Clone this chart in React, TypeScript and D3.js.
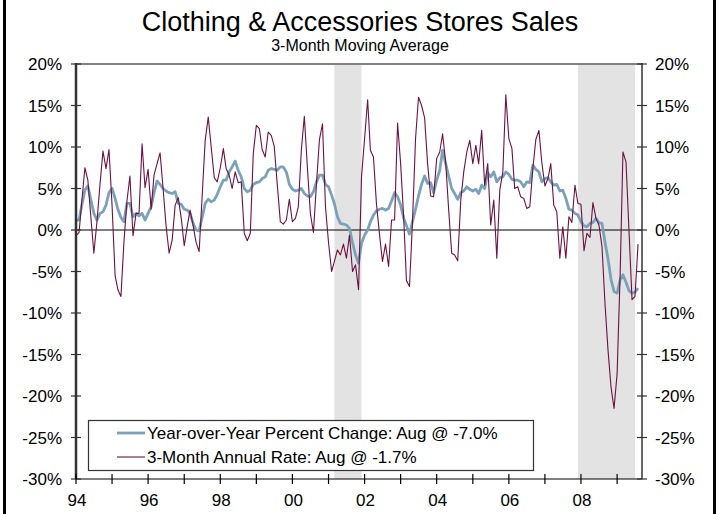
import React from "react";
import * as d3 from "d3";

// Monthly data, Jan 1994 .. Aug 2009
const yoyChange: number[] = [
  1.2, 1.2, 3.0, 4.8, 5.3, 3.6, 2.0, 1.2, 2.0, 2.2, 3.0, 4.5,
  5.0, 3.8, 2.5, 1.5, 1.0, 3.2, 3.2, 1.6, 2.0, 1.7, 2.0, 1.2,
  2.0, 2.8, 4.5, 5.9, 5.5, 5.0, 4.7, 4.5, 4.4, 4.6, 3.2, 3.1,
  2.5, 2.4, 2.0, 0.8, 0.0, -0.1, 1.5, 3.2, 3.7, 3.4, 3.6, 4.3,
  5.2, 6.0, 6.0, 7.0, 7.6, 8.3, 7.2, 6.4, 5.0, 4.6, 4.8, 5.5,
  5.7, 5.8, 6.2, 6.4, 7.2, 7.4, 7.3, 7.2, 7.6, 7.6, 7.0, 5.5,
  4.9, 4.7, 4.8, 5.0, 4.4, 4.1, 4.0, 4.6, 5.8, 6.6, 6.6, 5.5,
  5.2, 4.2, 3.2, 1.6, 0.8, 0.7, 0.6, 0.2, -1.5, -3.0, -4.0, -1.6,
  -0.6, 0.0, 1.0, 1.8, 2.3, 2.5, 2.6, 2.4, 2.6, 3.5, 4.5, 4.0,
  3.0, 1.4, 0.5, -0.5, 1.0, 2.5, 4.1, 5.5, 6.5, 5.6, 5.7, 4.5,
  6.0, 7.2, 9.6, 8.0, 6.5, 5.0, 4.4, 3.7, 4.5, 4.7, 5.2, 4.9,
  4.7, 4.9, 4.4, 5.4, 5.0, 6.9, 6.4, 7.0, 5.8, 6.3, 6.4, 7.0,
  6.7, 6.1, 6.0, 6.0, 5.8, 5.2, 5.8, 5.7, 7.8, 7.3, 7.0, 5.8,
  6.2, 6.3, 5.8, 5.4, 5.5, 4.7, 4.8, 3.8, 2.5, 2.4, 2.0, 1.8,
  1.0, 0.5, 0.4, 0.8, 0.9, 1.4, 0.9, 0.8, -1.5, -3.5, -6.0, -7.4,
  -7.6, -6.0, -5.4, -6.3, -7.3, -7.6, -7.5, -7.0,
];

const annualRate: number[] = [
  -0.7, -0.3, 3.5, 7.5, 6.0, 1.5, -2.8, 1.0, 5.5, 9.5, 7.4, 9.7,
  3.0, -5.5, -7.2, -8.0, -1.5, 3.5, 6.5, -0.7, 2.0, 2.0, 10.4, 5.1,
  7.3, 2.5, 6.6, 8.0, 9.3, 5.0, 0.5, -2.8, -1.2, 3.0, 3.9, 1.5,
  -1.9, 0.5, 2.4, 0.5, -1.5, -2.6, 4.0, 10.8, 13.6, 10.0, 6.3, 5.8,
  7.5, 9.8, 7.4, 6.6, 5.0, 7.0, 5.7, 5.8, -0.4, -1.3, -0.4, 9.2,
  12.6, 12.2, 9.7, 8.8, 11.8, 11.4, 10.1, 5.5, 1.0, 0.7, 1.2, 3.7,
  1.0, 1.4, 2.8, 9.7, 13.7, 7.5, 2.0, -0.3, 5.6, 10.9, 12.8, 2.8,
  -1.5, -5.0, -3.8, -2.4, -3.0, -1.7, -3.4, -0.6, -5.0, -4.2, -7.2, 6.4,
  11.0, 15.7, 9.6, 8.8, 3.2, -0.5, -3.8, -1.7, -4.4, 1.2, 1.2, 12.9,
  8.0, 1.5, -6.1, -6.8, 1.0, 11.0, 16.0, 15.0, 13.5, 8.0, 4.1, 4.0,
  8.6, 9.4, 11.6, 8.2, 2.5, -2.8, -3.0, -3.7, 3.6, 7.0, 9.4, 10.8,
  8.0, 10.2, 8.0, 12.0, 5.4, 8.0, 0.6, 3.6, -3.4, 4.8, 7.0, 16.3,
  11.0, 9.8, 5.0, 5.2, 4.0, 3.8, 2.6, 2.8, 7.4, 10.9, 12.0, 8.1,
  5.3, 6.2, 8.0, 3.0, 2.2, -3.4, 0.4, -3.4, 1.6, 0.9, 5.4, 3.2,
  3.1, -2.5, -0.4, -0.9, 3.3, 1.4, 0.6, -2.0, -9.0, -14.5, -19.0, -21.5,
  -17.3, -5.2, 9.4, 8.2, 0.0, -8.4, -8.0, -1.7,
];

const recessions: [string, string][] = [
  ["2001-03", "2001-11"],
  ["2007-12", "2009-06"],
];

const yTicks = [20, 15, 10, 5, 0, -5, -10, -15, -20, -25, -30];
const yearTicks = d3.range(1994, 2010);
const labelYears = [1994, 1996, 1998, 2000, 2002, 2004, 2006, 2008];

const title = "Clothing & Accessories Stores Sales";
const subtitle = "3-Month Moving Average";
const legendLabels = [
  "Year-over-Year Percent Change: Aug @ -7.0%",
  "3-Month Annual Rate: Aug @ -1.7%",
];

const BLUE = "#7aa2b9";
const MAROON = "#6c1243";
const FONT = "'Liberation Sans Narrow', 'Arial Narrow', 'Liberation Sans', sans-serif";

export default function App() {
  const W = 721, H = 514;
  const L = 76, R = 642, T = 64, B = 479;
  const x = d3.scaleTime().domain([new Date(1994, 0, 1), new Date(2009, 8, 10)]).range([L, R]);
  const y = d3.scaleLinear().domain([-30, 20]).range([B, T]);
  const dates = yoyChange.map((_, i) => new Date(1994, i, 1));
  const line = d3.line<number>().x((_, i) => x(dates[i])).y((d) => y(d));

  const parse = (s: string) => {
    const [yy, mm] = s.split("-").map(Number);
    return new Date(yy, mm - 1, 1);
  };

  return (
    <div style={{ position: "absolute", left: 0, top: 0 }}>
      <svg width={W} height={H} style={{ display: "block", background: "#fff" }}>
        <rect x={0} y={0} width={W} height={H} fill="#fff" />
        {/* frame */}
        <line x1={4.5} x2={4.5} y1={0} y2={H} stroke="#000" strokeWidth={3} />
        <line x1={714.5} x2={714.5} y1={0} y2={H} stroke="#000" strokeWidth={3} />

        <text x={360} y={31} textAnchor="middle" fontFamily={FONT} fontSize={27} fill="#000">{title}</text>
        <text x={360} y={51} textAnchor="middle" fontFamily={FONT} fontSize={16} fill="#000">{subtitle}</text>

        {recessions.map(([s, e], i) => {
          const x0 = x(parse(s));
          const ed = parse(e);
          const x1 = x(new Date(ed.getFullYear(), ed.getMonth() + 1, 1));
          return <rect key={i} x={x0} y={T} width={x1 - x0} height={B - T} fill="#e3e3e3" />;
        })}

        {/* top border */}
        <line x1={L} x2={R} y1={T} y2={T} stroke="#808080" strokeWidth={2} />
        {/* zero line */}
        <line x1={L} x2={R} y1={y(0)} y2={y(0)} stroke="#000" strokeWidth={1.2} />

        <path d={line(yoyChange) || ""} fill="none" stroke={BLUE} strokeWidth={2.8} strokeLinejoin="round" />
        <path d={line(annualRate) || ""} fill="none" stroke={MAROON} strokeWidth={1.1} strokeLinejoin="round" />

        {/* axes */}
        <line x1={L} x2={L} y1={T - 1} y2={B} stroke="#333" strokeWidth={2.5} />
        <line x1={R} x2={R} y1={T - 1} y2={B} stroke="#000" strokeWidth={1.2} />
        <line x1={L} x2={R} y1={B} y2={B} stroke="#000" strokeWidth={1.2} />

        {yTicks.map((t) => (
          <g key={t}>
            <line x1={L - 5} x2={L + 5} y1={y(t)} y2={y(t)} stroke="#333" strokeWidth={1.2} />
            <line x1={R - 5} x2={R + 5} y1={y(t)} y2={y(t)} stroke="#333" strokeWidth={1.2} />
            <text x={62} y={y(t)} dy="0.36em" textAnchor="end" fontFamily={FONT} fontSize={17} fill="#000">{t}%</text>
            <text x={655} y={y(t)} dy="0.36em" textAnchor="start" fontFamily={FONT} fontSize={17} fill="#000">{t}%</text>
          </g>
        ))}

        {yearTicks.map((yr) => (
          <line key={yr} x1={x(new Date(yr, 0, 1))} x2={x(new Date(yr, 0, 1))} y1={B - 5} y2={B + 5} stroke="#000" strokeWidth={1.2} />
        ))}
        {labelYears.map((yr) => (
          <text key={yr} x={x(new Date(yr, 0, 1)) + 1} y={506} textAnchor="middle" fontFamily={FONT} fontSize={17} fill="#000">
            {String(yr).slice(2)}
          </text>
        ))}

        {/* legend */}
        <rect x={88.5} y={420.5} width={445} height={50} fill="#fff" stroke="#333" strokeWidth={1.2} />
        <line x1={117} x2={145} y1={433} y2={433} stroke={BLUE} strokeWidth={2.8} />
        <line x1={117} x2={145} y1={457} y2={457} stroke={MAROON} strokeWidth={1.1} />
        <text x={147} y={439} fontFamily={FONT} fontSize={17} fill="#000">{legendLabels[0]}</text>
        <text x={147} y={463} fontFamily={FONT} fontSize={17} fill="#000">{legendLabels[1]}</text>
      </svg>
    </div>
  );
}
